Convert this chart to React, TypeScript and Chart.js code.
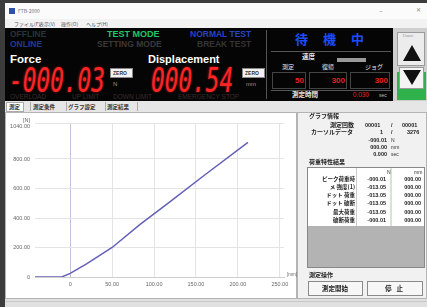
import React, { useEffect, useRef } from "react";
import { Chart, registerables } from "chart.js";
Chart.register(...registerables);

// ---- chart data ----
const displacementMm = [-42, -10, 0, 20, 50, 83, 120, 160, 212];
const forceN = [0, 0, 25, 90, 200, 355, 515, 690, 913];
const xTickValues = [0, 50, 100, 150, 200, 250];
const xTickLabels = ["0", "50.00", "100.00", "150.00", "200.00", "250.00"];
const yTickValues = [0, 200, 400, 600, 800, 1040];
const yTickLabels = ["0", "200.00", "400.00", "600.00", "800.00", "1040.00"];
const yUnit = "[N]";
const xUnit = "[mm]";

// ---- panel texts ----
const menuItems = ["ファイル(F)", "表示(V)", "操作(O)", "ヘルプ(H)"];
const tabs = ["測定", "測定条件", "グラフ設定", "測定結果"];
const resultRows = ["ピーク荷重時", "メ 強度(1)", "ドット 荷重", "ドット 破断", "最大荷重", "破断荷重"];
const resultA = ["-000.01", "-013.05", "-013.05", "-013.05", "-013.05", "-000.01"];
const resultB = ["000.00", "000.00", "000.00", "000.00", "000.00", "000.00"];

const JP = '"Noto Sans CJK JP", "Noto Sans", sans-serif';
const SANS = '"Liberation Sans", Arial, sans-serif';

type TP = {
  x: number; y: number; s?: number; c?: string; b?: boolean; r?: boolean;
  f?: string; ls?: number; children: React.ReactNode;
};
const T = ({ x, y, s = 6, c = "#222", b = false, r = false, f = JP, ls = 0, children }: TP) => (
  <div
    style={{
      position: "absolute",
      top: y - s * 0.6,
      ...(r ? { right: 427 - x } : { left: x }),
      fontSize: s,
      lineHeight: `${s * 1.2}px`,
      color: c,
      fontWeight: b ? 700 : 400,
      fontFamily: f,
      letterSpacing: ls,
      whiteSpace: "nowrap",
    }}
  >
    {children}
  </div>
);

const Box = ({ x, y, w, h, bg, bd, z }: { x: number; y: number; w: number; h: number; bg?: string; bd?: string; z?: number }) => (
  <div
    style={{
      position: "absolute", left: x, top: y, width: w, height: h,
      background: bg || "transparent",
      boxSizing: "border-box",
      border: bd ? `1px solid ${bd}` : "none",
      zIndex: z,
    }}
  />
);

const Seg = ({ x, y, text }: { x: number; y: number; text: string }) => (
  <div
    style={{
      position: "absolute", left: x, top: y, fontSize: 33, lineHeight: "33px",
      fontFamily: '"DejaVu Sans Mono", monospace', fontStyle: "italic",
      color: "#ff2424", transform: "scaleX(0.69)", transformOrigin: "left top",
      textShadow: "0 0 3px rgba(255,40,40,0.6)", whiteSpace: "nowrap",
    }}
  >
    {text}
  </div>
);

function ForceChart() {
  const ref = useRef<HTMLCanvasElement | null>(null);
  useEffect(() => {
    if (!ref.current) return;
    const tickFont = { size: 5.5, family: SANS };
    const chart = new Chart(ref.current, {
      type: "line",
      data: {
        datasets: [
          {
            data: displacementMm.map((x, i) => ({ x, y: forceN[i] })),
            borderColor: "#6460b8",
            borderWidth: 1.5,
            pointRadius: 0,
            tension: 0,
          },
        ],
      },
      options: {
        animation: false,
        responsive: false,
        maintainAspectRatio: false,
        layout: { padding: { top: 9, right: 12, left: 0, bottom: 0 } },
        plugins: { legend: { display: false }, tooltip: { enabled: false } },
        scales: {
          x: {
            type: "linear",
            min: -42,
            max: 255,
            afterBuildTicks: (s: any) => {
              s.ticks = xTickValues.map((v) => ({ value: v }));
            },
            afterFit: (s: any) => {
              s.height = 21;
            },
            ticks: {
              autoSkip: false,
              maxRotation: 0,
              padding: 4,
              color: "#666",
              font: tickFont,
              callback: (v: any) => {
                const i = xTickValues.indexOf(Number(v));
                return i >= 0 ? xTickLabels[i] : "";
              },
            },
            grid: {
              drawTicks: false,
              color: (ctx: any) => (ctx.tick && ctx.tick.value === 0 ? "#c4c0dc" : "#e4e4e4"),
            },
            border: { display: true, color: "#cfcfcf" },
          },
          y: {
            type: "linear",
            min: 0,
            max: 1040,
            afterBuildTicks: (s: any) => {
              s.ticks = yTickValues.map((v) => ({ value: v }));
            },
            afterFit: (s: any) => {
              s.width = 29;
            },
            ticks: {
              autoSkip: false,
              padding: 5,
              color: "#666",
              font: tickFont,
              callback: (v: any) => {
                const i = yTickValues.indexOf(Number(v));
                if (i < 0) return "";
                return i === yTickValues.length - 1 ? [yUnit, yTickLabels[i]] : yTickLabels[i];
              },
            },
            grid: { drawTicks: false, color: "#e4e4e4" },
            border: { display: false },
          },
        },
      },
    } as any);
    return () => chart.destroy();
  }, []);
  return (
    <canvas
      ref={ref}
      width={290}
      height={186}
      style={{ position: "absolute", left: 6, top: 112, width: 290, height: 186, display: "block" }}
    />
  );
}

export default function App() {
  return (
    <div
      style={{
        position: "fixed", left: 0, top: 0, width: 427, height: 307, overflow: "hidden",
        background: "#dcdcdc", fontFamily: JP,
      }}
    >
      {/* outer frame */}
      <Box x={0} y={0} w={427} h={3} bg="#3c3c3c" />
      <Box x={0} y={0} w={5} h={307} bg="#3c3c3c" />
      {/* title bar */}
      <Box x={5} y={3} w={422} h={16} bg="#fbfbfb" />
      <Box x={9} y={8} w={6} h={6} bg="#3050b0" />
      <T x={18} y={11} s={5} c="#777">FTB-2000</T>
      <T x={379} y={10} s={7} c="#888">–</T>
      <T x={416} y={10} s={6} c="#888">✕</T>
      {/* menu */}
      <Box x={5} y={19} w={422} h={9} bg="#f2f2f2" />
      {menuItems.map((m, i) => (
        <T key={m} x={[14, 39, 61, 86][i]} y={23.5} s={5} c="#555">{m}</T>
      ))}
      {/* black panel */}
      <Box x={5} y={28} w={388} h={73} bg="#050505" />
      <Box x={393} y={28} w={34} h={73} bg="#cfcfcf" />
      <T x={10} y={34} s={8.5} b c="#25333d" f={SANS}>OFFLINE</T>
      <T x={10} y={44} s={8.5} b c="#1c3c8e" f={SANS}>ONLINE</T>
      <T x={107} y={34} s={9} b c="#20c868" f={SANS}>TEST MODE</T>
      <T x={97} y={44} s={8.5} b c="#3a3a3a" f={SANS}>SETTING MODE</T>
      <T x={190} y={34} s={8.5} b c="#2444c4" f={SANS}>NORMAL TEST</T>
      <T x={197} y={44} s={8.5} b c="#353535" f={SANS}>BREAK TEST</T>
      <T x={10} y={60} s={11.5} b c="#ffffff" f={SANS}>Force</T>
      <T x={148} y={60} s={11} b c="#ffffff" f={SANS}>Displacement</T>
      <Seg x={9} y={64} text="-000.03" />
      <Seg x={151} y={64} text="000.54" />
      <Box x={110} y={68} w={23} h={10} bg="#f2f2f2" bd="#888" />
      <T x={113} y={73} s={5} b c="#333" f={SANS}>ZERO</T>
      <Box x={242} y={68} w={23} h={10} bg="#f2f2f2" bd="#888" />
      <T x={245} y={73} s={5} b c="#333" f={SANS}>ZERO</T>
      <T x={113} y={85} s={6} c="#9a9a9a" f={SANS}>N</T>
      <T x={246} y={85} s={6} c="#9a9a9a" f={SANS}>mm</T>
      <T x={10} y={97} s={6.5} c="#3a2c2c" f={SANS}>OVERLOAD</T>
      <T x={72} y={97} s={6.5} c="#3a2c2c" f={SANS}>UP LIMIT</T>
      <T x={113} y={97} s={6.5} c="#3a2c2c" f={SANS}>DOWN LIMIT</T>
      <T x={178} y={97} s={6.5} c="#3a2c2c" f={SANS}>EMERGENCY STOP</T>
      {/* right of black panel */}
      <Box x={266} y={30} w={1} h={69} bg="#555" />
      <T x={295} y={39} s={13} b c="#1c4cff" ls={15}>待機中</T>
      <Box x={271} y={51} w={120} h={1} bg="#555" />
      <T x={302} y={57} s={6.5} b c="#e8e8e8">速度</T>
      <Box x={337} y={58} w={29} h={4} bg="#9a9a9a" />
      <T x={282} y={67} s={6} c="#e8e8e8">測定</T>
      <T x={322} y={67} s={6} c="#e8e8e8">復帰</T>
      <T x={365} y={67} s={6} c="#e8e8e8">ジョグ</T>
      <Box x={272} y={72} w={34} h={17} bd="#444" />
      <Box x={309} y={72} w={38} h={17} bd="#444" />
      <Box x={350} y={72} w={40} h={17} bd="#444" />
      <T x={304} y={81} s={8} b r c="#e82020" f={SANS}>50</T>
      <T x={345} y={81} s={8} b r c="#e82020" f={SANS}>300</T>
      <T x={388} y={81} s={8} b r c="#e82020" f={SANS}>300</T>
      <Box x={271} y={90} w={120} h={1} bg="#555" />
      <T x={292} y={95} s={6.5} b c="#e8e8e8">測定時間</T>
      <T x={369} y={95} s={6.5} r c="#e82020" f={SANS}>0.030</T>
      <T x={379} y={95} s={5} c="#bbb" f={SANS}>sec</T>
      {/* up/down buttons */}
      <Box x={397} y={32} w={28} h={34} bg="#ececec" bd="#9a9a9a" />
      <T x={403} y={36} s={4} c="#999" f={SANS}>Down</T>
      <div style={{ position: "absolute", left: 403, top: 45, width: 0, height: 0, borderLeft: "9px solid transparent", borderRight: "9px solid transparent", borderBottom: "16px solid #111" }} />
      <Box x={397} y={72} w={29} h={28} bg="#2fb24c" />
      <Box x={399} y={67} w={25} h={22} bg="#f4f4f4" bd="#9a9a9a" />
      <div style={{ position: "absolute", left: 403, top: 70, width: 0, height: 0, borderLeft: "9px solid transparent", borderRight: "9px solid transparent", borderTop: "15px solid #111" }} />
      {/* tab strip */}
      <Box x={5} y={101} w={422} h={11} bg="#e6e6e6" />
      <Box x={6} y={102} w={18} h={10} bg="#ffffff" bd="#aaa" />
      {tabs.map((t, i) => (
        <T key={t} x={[9, 33, 68, 107][i]} y={107} s={5.5} b c="#333">{t}</T>
      ))}
      <Box x={30} y={102} w={1} h={9} bg="#aaa" />
      <Box x={66} y={102} w={1} h={9} bg="#aaa" />
      <Box x={105} y={102} w={1} h={9} bg="#aaa" />
      <Box x={137} y={102} w={1} h={9} bg="#aaa" />
      {/* chart panel */}
      <Box x={5} y={112} w={292} h={187} bg="#ffffff" bd="#b4b4b4" />
      <ForceChart />
      <T x={287} y={275} s={4.5} c="#666" f={SANS}>{xUnit}</T>
      {/* right info panel */}
      <Box x={297} y={112} w={130} h={187} bg="#f1f1f1" bd="#b4b4b4" />
      <T x={309} y={116} s={6} b>グラフ情報</T>
      <T x={354} y={125} s={6} b r>測定回数</T>
      <T x={365} y={125} s={5.5} b f={SANS}>00001</T>
      <T x={391} y={125} s={5.5} b f={SANS}>/</T>
      <T x={402} y={125} s={5.5} b f={SANS}>00001</T>
      <T x={311} y={132} s={6} b>カーソルデータ</T>
      <T x={380} y={132} s={5.5} b f={SANS}>1</T>
      <T x={391} y={132} s={5.5} b f={SANS}>/</T>
      <T x={407} y={132} s={5.5} b f={SANS}>3276</T>
      <T x={387} y={140} s={5.5} b r f={SANS}>-000.01</T>
      <T x={391} y={140} s={5} c="#333" f={SANS}>N</T>
      <T x={387} y={147} s={5.5} b r f={SANS}>000.00</T>
      <T x={391} y={147} s={5} c="#333" f={SANS}>mm</T>
      <T x={387} y={154} s={5.5} b r f={SANS}>0.000</T>
      <T x={391} y={154} s={5} c="#333" f={SANS}>sec</T>
      <T x={309} y={162} s={6} b>荷重特性結果</T>
      <Box x={307} y={167} w={118} h={101} bg="#b3b3b3" bd="#888" />
      <Box x={308} y={168} w={116} h={58} bg="#ffffff" />
      <Box x={356} y={168} w={1} h={58} bg="#ccc" />
      <Box x={390} y={168} w={2} h={58} bg="#cfe8cf" />
      <T x={387} y={171.5} s={5} c="#333" f={SANS}>N</T>
      <T x={414} y={171.5} s={5} c="#333" f={SANS}>mm</T>
      {resultRows.map((r, i) => (
        <React.Fragment key={r}>
          <T x={355} y={179 + i * 8.2} s={5.5} b r>{r}</T>
          <T x={386} y={179 + i * 8.2} s={5.5} b r f={SANS}>{resultA[i]}</T>
          <T x={421} y={179 + i * 8.2} s={5.5} b r f={SANS}>{resultB[i]}</T>
        </React.Fragment>
      ))}
      <T x={309} y={275} s={6} b>測定操作</T>
      <Box x={308} y={281} w={55} h={15} bg="#f7f7f7" bd="#8a8a8a" />
      <T x={322} y={288.5} s={6.5} b>測定開始</T>
      <Box x={367} y={281} w={56} h={15} bg="#f7f7f7" bd="#8a8a8a" />
      <T x={385} y={288.5} s={6.5} b ls={5}>停止</T>
      {/* bottom strip */}
      <Box x={5} y={299} w={422} h={8} bg="#e0e0e0" />
      <Box x={5} y={301} w={422} h={1} bg="#c8c8c8" />
    </div>
  );
}
